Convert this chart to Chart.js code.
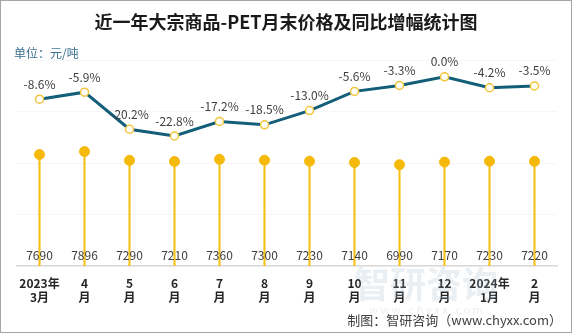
<!DOCTYPE html>
<html>
<head>
<meta charset="utf-8">
<script src="https://cdn.jsdelivr.net/npm/chart.js@4.4.0/dist/chart.umd.min.js"></script>
<style>
    html, body { margin: 0; padding: 0; background: #fff; }
    #wrap { width: 572px; height: 333px; position: relative; box-sizing: border-box; border: 1px solid #a6a6a6; }
</style>
</head>
<body>
<div id="wrap"><canvas id="petChart"></canvas></div>
<script>
// 月份标签
const months = [['2023年', '3月'], ['4', '月'], ['5', '月'], ['6', '月'], ['7', '月'], ['8', '月'],
    ['9', '月'], ['10', '月'], ['11', '月'], ['12', '月'], ['2024年', '1月'], ['2', '月']];
// 月末价格 (元/吨)
const prices = [7690, 7896, 7290, 7210, 7360, 7300, 7230, 7140, 6990, 7170, 7230, 7220];
// 同比增幅 (%)
const yoy = [-8.6, -5.9, -20.2, -22.8, -17.2, -18.5, -13.0, -5.6, -3.3, 0.0, -4.2, -3.5];

const FONT = '"Noto Sans CJK SC", "Microsoft YaHei", sans-serif';

// 标题、单位、数值标签等
const textPlugin = {
    id: 'texts',
    beforeDatasetsDraw(chart) {
        const ctx = chart.ctx;
        ctx.save();
        // 水印
        ctx.textBaseline = 'middle';
        ctx.textAlign = 'center';
        ctx.fillStyle = 'rgba(160, 180, 200, 0.22)';
        ctx.font = 'bold 36px ' + FONT;
        ctx.fillText('智研咨询', 425, 283);
        ctx.font = '11px ' + FONT;
        ctx.fillText('w w w . c h y x x . c o m', 425, 309);
        ctx.restore();
    },
    afterDatasetsDraw(chart) {
        const ctx = chart.ctx;
        const x = chart.scales.x;
        const yl = chart.scales.yRate;
        ctx.save();
        ctx.textAlign = 'center';
        ctx.textBaseline = 'middle';

        // 价格标签
        ctx.font = '12px ' + FONT;
        ctx.fillStyle = '#404040';
        prices.forEach((v, i) => {
            ctx.fillText(v, x.getPixelForValue(i), 254);
        });

        // 增幅标签
        yoy.forEach((v, i) => {
            ctx.fillText(v.toFixed(1) + '%', x.getPixelForValue(i), yl.getPixelForValue(v) - 15);
        });
        ctx.restore();
    },
    afterDraw(chart) {
        const ctx = chart.ctx;
        ctx.save();
        ctx.textBaseline = 'middle';
        ctx.textAlign = 'center';
        ctx.fillStyle = '#1a1a1a';
        ctx.font = 'bold 18px ' + FONT;
        ctx.fillText('近一年大宗商品-PET月末价格及同比增幅统计图', 285, 21);

        ctx.textAlign = 'left';
        ctx.fillStyle = '#3a7090';
        ctx.font = '12px ' + FONT;
        ctx.fillText('单位：元/吨', 13, 52);

        ctx.textAlign = 'right';
        ctx.fillStyle = '#404040';
        ctx.font = '13px ' + FONT;
        ctx.fillText('制图：智研咨询（www.chyxx.com）', 561, 319);
        ctx.restore();
    }
};

const petChart = new Chart(document.getElementById('petChart'), {
    type: 'bar',
    data: {
        labels: months,
        datasets: [{
            type: 'line',
            label: '同比增幅',
            data: yoy,
            yAxisID: 'yRate',
            borderColor: '#135e78',
            borderWidth: 3,
            pointRadius: 4,
            pointBackgroundColor: '#ffffff',
            pointBorderColor: '#f2c53d',
            pointBorderWidth: 1.5,
            tension: 0,
            order: 0,
        }, {
            type: 'line',
            label: '价格点',
            data: prices,
            yAxisID: 'yPrice',
            showLine: false,
            pointRadius: 5,
            pointBackgroundColor: '#f5b90a',
            pointBorderColor: '#f5b90a',
            order: 1,
        }, {
            label: '月末价格',
            data: prices,
            yAxisID: 'yPrice',
            backgroundColor: '#f5c21b',
            barThickness: 1.5,
            order: 2,
        }]
    },
    options: {
        responsive: true,
        maintainAspectRatio: false,
        animation: false,
        layout: {
            padding: { top: 59, left: 16, right: 14, bottom: 17 }
        },
        plugins: {
            legend: { display: false },
            tooltip: { enabled: false },
        },
        scales: {
            x: {
                grid: { display: false, drawTicks: false },
                border: { color: '#d9d9d9', width: 1.5 },
                ticks: {
                    color: '#262626',
                    font: { family: FONT, size: 12, weight: 'bold' },
                    padding: 10,
                    maxRotation: 0,
                    autoSkip: false,
                },
            },
            yPrice: {
                position: 'left',
                min: 0,
                max: 14200,
                display: true,
                ticks: { display: false, stepSize: 3550 },
                grid: { color: '#f6f6f6', drawTicks: false },
                border: { display: false },
            },
            yRate: {
                position: 'right',
                min: -73,
                max: 6.5,
                display: false,
            }
        }
    },
    plugins: [textPlugin]
});
</script>
</body>
</html>
